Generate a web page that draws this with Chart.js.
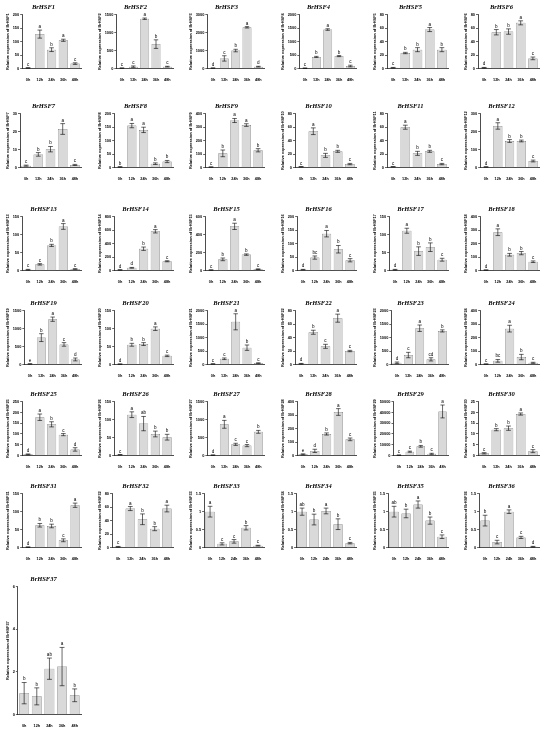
<!DOCTYPE html>
<html lang="en">
<head>
  <meta charset="UTF-8" />
  <title>BrHSF relative expression</title>
  <script src="https://cdn.jsdelivr.net/npm/chart.js"></script>
  <style>
    body {
      margin: 0;
      background: #ffffff;
      width: 550px;
      height: 740px;
      position: relative;
      overflow: hidden;
    }
    .panel {
      position: absolute;
    }
  </style>
</head>
<body>
  <div id="grid"></div>

  <script>
    // sampling times
    const times = ['0h', '12h', '24h', '36h', '48h'];

    const genes = [];
    for (let n = 1; n <= 37; n++) genes.push('BrHSF' + n);

    // mean relative expression
    const means = [
      [2, 128, 70, 105, 18],
      [10, 50, 1390, 680, 50],
      [20, 560, 1000, 2300, 100],
      [10, 430, 1450, 460, 90],
      [1, 23, 28, 58, 28],
      [1, 54, 55, 68, 15],
      [1, 7.3, 10.2, 21.5, 1.4],
      [2, 156, 140, 14, 22],
      [3, 105, 350, 316, 128],
      [1, 54, 18, 24, 5],
      [1, 60, 21, 24, 5],
      [3, 232, 148, 148, 36],
      [2, 17, 70, 123, 4],
      [8, 39, 324, 584, 137],
      [5, 124, 493, 177, 14],
      [3, 48, 137, 79, 38],
      [2, 111, 54, 65, 30],
      [3, 285, 117, 129, 65],
      [15, 750, 1265, 560, 140],
      [1, 55, 57, 100, 24],
      [20, 212, 1590, 625, 50],
      [1, 48, 27, 69, 20],
      [60, 350, 1350, 190, 1250],
      [3, 27, 267, 55, 12],
      [5, 178, 145, 97, 28],
      [2, 114, 89, 60, 51],
      [10, 870, 310, 275, 660],
      [8, 34, 160, 324, 120],
      [300, 3500, 8500, 1500, 41000],
      [1, 12, 12.7, 19.3, 2],
      [1, 62, 60, 20, 118],
      [1, 58, 42, 28, 58],
      [1.0, 0.1, 0.17, 0.55, 0.05],
      [1.0, 0.78, 1.02, 0.65, 0.12],
      [1.0, 0.95, 1.2, 0.75, 0.3],
      [0.75, 0.15, 1.0, 0.28, 0.02],
      [1.0, 0.85, 2.15, 2.25, 0.9]
    ];

    // standard deviation (error bars)
    const errs = [
      [1, 15, 7, 4, 3],
      [3, 20, 20, 120, 10],
      [10, 150, 70, 40, 20],
      [5, 20, 30, 20, 30],
      [0.5, 1, 3, 3, 3],
      [0.5, 4, 4, 3, 2],
      [0.3, 1, 1.5, 3, 0.3],
      [1, 8, 10, 3, 4],
      [1, 25, 15, 10, 12],
      [0.3, 5, 3, 1.5, 1],
      [0.3, 3, 3, 1.5, 1],
      [1, 18, 8, 5, 5],
      [1, 2, 3, 8, 1],
      [3, 6, 25, 25, 8],
      [2, 15, 35, 8, 4],
      [1, 6, 12, 14, 6],
      [1, 7, 12, 12, 4],
      [1, 25, 10, 12, 6],
      [5, 110, 60, 50, 40],
      [0.5, 4, 4, 5, 2],
      [5, 30, 300, 100, 10],
      [0.5, 3, 3, 6, 1],
      [30, 100, 120, 60, 40],
      [1, 10, 25, 20, 4],
      [2, 15, 12, 5, 8],
      [0.5, 8, 20, 8, 8],
      [4, 110, 30, 30, 40],
      [4, 12, 8, 25, 10],
      [100, 500, 800, 500, 6000],
      [0.3, 0.5, 1, 0.5, 0.7],
      [0.5, 5, 5, 4, 6],
      [0.5, 3, 8, 3, 5],
      [0.15, 0.03, 0.05, 0.06, 0.01],
      [0.1, 0.15, 0.08, 0.15, 0.02],
      [0.15, 0.12, 0.1, 0.1, 0.05],
      [0.15, 0.05, 0.05, 0.03, 0.01],
      [0.5, 0.4, 0.5, 0.9, 0.3]
    ];

    // significance letters
    const letters = [
      ['c', 'a', 'b', 'a', 'c'], ['c', 'c', 'a', 'b', 'c'], ['d', 'c', 'b', 'a', 'd'],
      ['c', 'b', 'a', 'b', 'c'], ['c', 'b', 'b', 'a', 'b'], ['d', 'b', 'b', 'a', 'c'],
      ['c', 'b', 'b', 'a', 'c'], ['b', 'a', 'a', 'b', 'b'], ['c', 'b', 'a', 'a', 'b'],
      ['c', 'a', 'b', 'b', 'c'], ['c', 'a', 'b', 'b', 'c'], ['d', 'a', 'b', 'b', 'c'],
      ['c', 'c', 'b', 'a', 'c'], ['d', 'd', 'b', 'a', 'c'], ['c', 'b', 'a', 'b', 'c'],
      ['d', 'bc', 'a', 'b', 'c'], ['d', 'a', 'b', 'b', 'c'], ['d', 'a', 'b', 'b', 'c'],
      ['e', 'b', 'a', 'c', 'd'], ['d', 'b', 'b', 'a', 'c'], ['c', 'c', 'a', 'b', 'c'],
      ['d', 'b', 'c', 'a', 'c'], ['d', 'c', 'a', 'cd', 'b'], ['c', 'bc', 'a', 'b', 'c'],
      ['d', 'a', 'b', 'c', 'd'], ['c', 'a', 'ab', 'b', 'b'], ['d', 'a', 'c', 'c', 'b'],
      ['e', 'd', 'b', 'a', 'c'], ['c', 'c', 'b', 'c', 'a'], ['c', 'b', 'b', 'a', 'c'],
      ['d', 'b', 'b', 'c', 'a'], ['c', 'a', 'b', 'b', 'a'], ['a', 'c', 'c', 'b', 'c'],
      ['ab', 'b', 'a', 'b', 'c'], ['ab', 'b', 'a', 'b', 'c'], ['b', 'c', 'a', 'c', 'd'],
      ['b', 'b', 'ab', 'a', 'b']
    ];

    // y axis limits and tick steps
    const yMax = [200, 1500, 3000, 2000, 80, 80, 30, 200, 400, 80, 80, 300, 150, 800, 600, 200, 150, 400,
                  1500, 150, 2000, 80, 2000, 400, 250, 150, 1500, 400, 50000, 25, 150, 80, 1.5, 1.5, 1.5, 1.5, 6];
    const yStep = [50, 500, 1000, 500, 20, 20, 10, 50, 100, 20, 20, 100, 50, 200, 200, 50, 50, 100,
                   500, 50, 500, 20, 500, 100, 50, 50, 500, 100, 10000, 5, 50, 20, 0.5, 0.5, 0.5, 0.5, 2];

    const rowTop = [1.5, 100.5, 203.5, 297.5, 388.5, 480.5, 573.5];
    const colW = 550 / 6;

    // draws error bars and letters on top of the bars
    const errorBars = {
      id: 'errorBars',
      afterDatasetsDraw(chart) {
        const i = chart.options.plugins.errorBars.idx;
        const ctx = chart.ctx;
        const y = chart.scales.y;
        const meta = chart.getDatasetMeta(0);
        ctx.save();
        ctx.strokeStyle = '#000';
        ctx.lineWidth = 0.6;
        ctx.fillStyle = '#000';
        ctx.font = '4.6px "Liberation Sans"';
        ctx.textAlign = 'center';
        ctx.textBaseline = 'bottom';
        meta.data.forEach((bar, j) => {
          const m = means[i][j], e = errs[i][j];
          const yTop = y.getPixelForValue(m + e);
          const yBot = y.getPixelForValue(Math.max(m - e, 0));
          const cap = bar.width * 0.25;
          ctx.beginPath();
          ctx.moveTo(bar.x, yTop); ctx.lineTo(bar.x, yBot);
          ctx.moveTo(bar.x - cap, yTop); ctx.lineTo(bar.x + cap, yTop);
          ctx.moveTo(bar.x - cap, yBot); ctx.lineTo(bar.x + cap, yBot);
          ctx.stroke();
          ctx.fillText(letters[i][j], bar.x, yTop - 1);
        });
        ctx.restore();
      }
    };

    const grid = document.getElementById('grid');

    genes.forEach((gene, i) => {
      const row = Math.floor(i / 6), col = i % 6;
      const h = row === 6 ? 156 : 82;
      const div = document.createElement('div');
      div.className = 'panel';
      div.style.left = (col * colW) + 'px';
      div.style.top = rowTop[row] + 'px';
      const canvas = document.createElement('canvas');
      canvas.width = 90;
      canvas.height = h;
      div.appendChild(canvas);
      grid.appendChild(div);

      new Chart(canvas.getContext('2d'), {
        type: 'bar',
        data: {
          labels: times,
          datasets: [{
            data: means[i],
            backgroundColor: '#d9d9d9',
            borderColor: '#444',
            borderWidth: 0.5,
            categoryPercentage: 0.78,
            barPercentage: 1
          }]
        },
        plugins: [errorBars],
        options: {
          responsive: false,
          animation: false,
          layout: { padding: { left: 6, right: 9, top: 0, bottom: 1 } },
          plugins: {
            legend: { display: false },
            tooltip: { enabled: false },
            errorBars: { idx: i },
            title: {
              display: true,
              text: gene,
              color: '#000',
              font: { family: 'Liberation Serif', size: 6.5, style: 'italic', weight: 'bold' },
              padding: { top: 1, bottom: 4 }
            }
          },
          scales: {
            x: {
              grid: { display: false },
              border: { display: true, color: '#000', width: 0.7 },
              ticks: {
                color: '#000', padding: 1, maxRotation: 0, minRotation: 0, autoSkip: false,
                font: { family: 'Liberation Sans', size: 3.8, weight: 'bold' }
              }
            },
            y: {
              min: 0,
              max: yMax[i],
              grid: { drawOnChartArea: false, drawTicks: true, tickLength: 2, color: '#000', lineWidth: 0.6 },
              border: { display: true, color: '#000', width: 0.7 },
              ticks: {
                stepSize: yStep[i], color: '#000', padding: 1,
                callback: v => String(v),
                font: { family: 'Liberation Sans', size: 3.9, weight: 'bold' }
              },
              title: {
                display: true,
                text: 'Relative expression of ' + gene,
                color: '#000',
                padding: { top: 0, bottom: 1 },
                font: { family: 'Liberation Sans', size: 3.9, weight: 'bold' }
              }
            }
          }
        }
      });
    });
  </script>
</body>
</html>
